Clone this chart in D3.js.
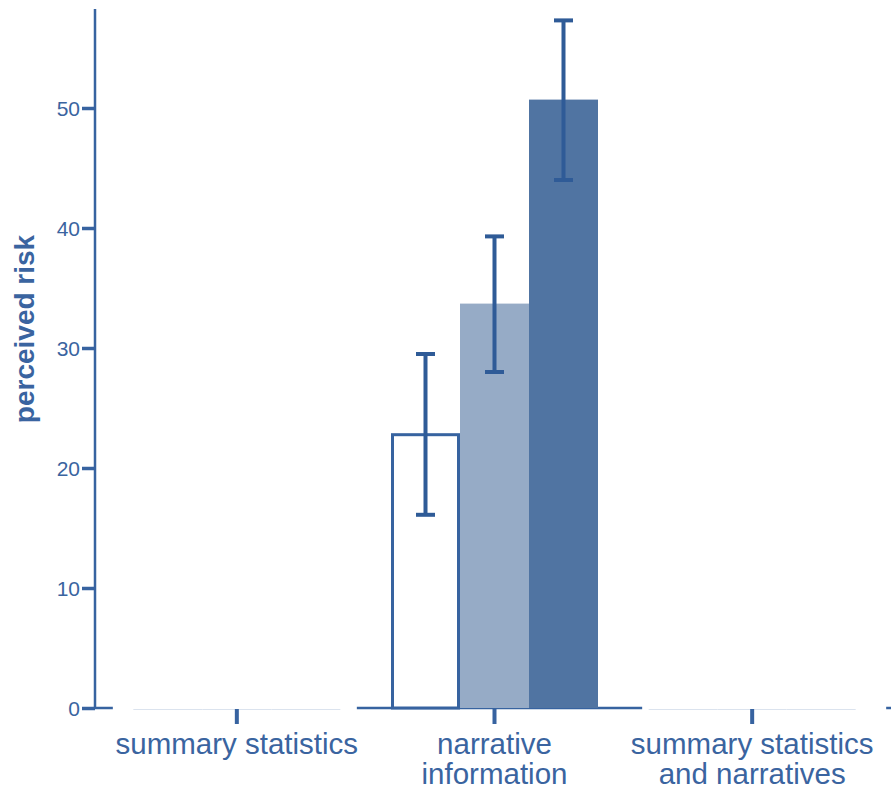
<!DOCTYPE html>
<html>
<head>
<meta charset="utf-8">
<script src="https://cdn.jsdelivr.net/npm/d3@7"></script>
<style>
  html, body { margin: 0; padding: 0; background: #ffffff; }
  svg { display: block; }
  text { font-family: "Liberation Sans", Arial, sans-serif; }
</style>
</head>
<body>
<script>
// ---- data ----
const categories = ["summary statistics", "narrative information", "summary statistics and narratives"];
const categoryLines = [["summary statistics"], ["narrative", "information"], ["summary statistics", "and narratives"]];
const seriesNames = ["condition A", "condition B", "condition C"];
const seriesA = [0, 22.9, 0];
const seriesB = [0, 33.7, 0];
const seriesC = [0, 50.7, 0];
const errLowA = [null, 16.1, null];
const errHighA = [null, 29.5, null];
const errLowB = [null, 28.0, null];
const errHighB = [null, 39.3, null];
const errLowC = [null, 44.0, null];
const errHighC = [null, 57.3, null];
const yTicks = [0, 10, 20, 30, 40, 50];
const yLabel = "perceived risk";

// ---- layout ----
const W = 891, H = 790;
const axisColor = "#3763a0";
const textColor = "#3a64a0";
const fills = ["#ffffff", "#96abc6", "#5074a2"];

const svg = d3.select("body").append("svg").attr("width", W).attr("height", H);

const y = d3.scaleLinear().domain([0, 58.25]).range([708, 9]);
const x = d3.scaleBand().domain(categories).range([108, 881]).padding(0);
const xs = d3.scaleBand().domain(seriesNames).range([-103.5, 103.5]).padding(0);

const allSeries = [seriesA, seriesB, seriesC];
const lows = [errLowA, errLowB, errLowC];
const highs = [errHighA, errHighB, errHighC];

const rows = [];
categories.forEach((c, ci) => {
  seriesNames.forEach((s, si) => {
    rows.push({cat: c, ci, s, si, v: allSeries[si][ci], lo: lows[si][ci], hi: highs[si][ci]});
  });
});

const axisX = 95;

// x baseline (domain)
svg.append("line")
  .attr("x1", axisX).attr("x2", W)
  .attr("y1", y(0)).attr("y2", y(0))
  .attr("stroke", axisColor).attr("stroke-width", 2.5);

// covers over empty groups (the reference shows the baseline interrupted there)
categories.forEach((c, ci) => {
  const empty = seriesNames.every((s, si) => allSeries[si][ci] === 0);
  if (empty) {
    const cx = x(c) + x.bandwidth() / 2;
    const shift = ci === 0 ? -3 : 11;
    svg.append("rect")
      .attr("x", cx - 121 + shift).attr("y", y(0) - 4)
      .attr("width", 244).attr("height", 8)
      .attr("fill", "#ffffff");
  }
});

// faint zero-height bars
svg.append("g").selectAll("line")
  .data(rows.filter(d => d.v === 0))
  .join("line")
  .attr("x1", d => x(d.cat) + x.bandwidth() / 2 + xs(d.s))
  .attr("x2", d => x(d.cat) + x.bandwidth() / 2 + xs(d.s) + xs.bandwidth())
  .attr("y1", y(0) + 1.5).attr("y2", y(0) + 1.5)
  .attr("stroke", "#dbe3ee").attr("stroke-width", 1.2);

// bars
const barRows = rows.filter(d => d.v > 0);
svg.append("g").selectAll("rect")
  .data(barRows)
  .join("rect")
  .attr("x", d => x(d.cat) + x.bandwidth() / 2 + xs(d.s) + (d.si === 0 ? 1.5 : 0))
  .attr("y", d => y(d.v) + (d.si === 0 ? 1.5 : 0))
  .attr("width", d => xs.bandwidth() - (d.si === 0 ? 3 : 0))
  .attr("height", d => y(0) - y(d.v) - (d.si === 0 ? 1.5 : 0))
  .attr("fill", d => fills[d.si])
  .attr("stroke", d => d.si === 0 ? axisColor : "none")
  .attr("stroke-width", 3);

// error bars
const eb = svg.append("g").attr("stroke", "#2f5b97").attr("stroke-width", 4);
barRows.filter(d => d.lo != null).forEach(d => {
  const cx = x(d.cat) + x.bandwidth() / 2 + xs(d.s) + xs.bandwidth() / 2;
  eb.append("line").attr("x1", cx).attr("x2", cx).attr("y1", y(d.hi)).attr("y2", y(d.lo));
  eb.append("line").attr("x1", cx - 9.5).attr("x2", cx + 9.5).attr("y1", y(d.hi)).attr("y2", y(d.hi));
  eb.append("line").attr("x1", cx - 9.5).attr("x2", cx + 9.5).attr("y1", y(d.lo)).attr("y2", y(d.lo));
});

// y axis
const yAxis = svg.append("g").attr("transform", `translate(${axisX},0)`)
  .call(d3.axisLeft(y).tickValues(yTicks).tickSize(13).tickPadding(2).tickFormat(d3.format("d")));
yAxis.select(".domain").attr("d", `M0,${y(0)}V${y.range()[1]}`)
  .attr("stroke", axisColor).attr("stroke-width", 2.5);
yAxis.selectAll(".tick line").attr("stroke", axisColor).attr("stroke-width", 3.5);
yAxis.selectAll(".tick text").attr("fill", textColor)
  .style("font-size", "21px").attr("dy", "0.36em");

// x axis ticks and labels
const xg = svg.append("g");
categories.forEach((c, ci) => {
  const cx = x(c) + x.bandwidth() / 2;
  xg.append("line").attr("x1", cx).attr("x2", cx)
    .attr("y1", y(0) + 1).attr("y2", y(0) + 16)
    .attr("stroke", axisColor).attr("stroke-width", 4);
  const t = xg.append("text").attr("x", cx).attr("y", 754)
    .attr("text-anchor", "middle").attr("fill", textColor)
    .style("font-size", "29.5px");
  categoryLines[ci].forEach((ln, li) => {
    t.append("tspan").attr("x", cx).attr("dy", li === 0 ? 0 : 30).text(ln);
  });
});

// y label
svg.append("text")
  .attr("transform", `translate(34,329) rotate(-90)`)
  .attr("text-anchor", "middle")
  .attr("fill", textColor)
  .style("font-size", "28px").style("font-weight", "bold")
  .text(yLabel);
</script>
</body>
</html>
